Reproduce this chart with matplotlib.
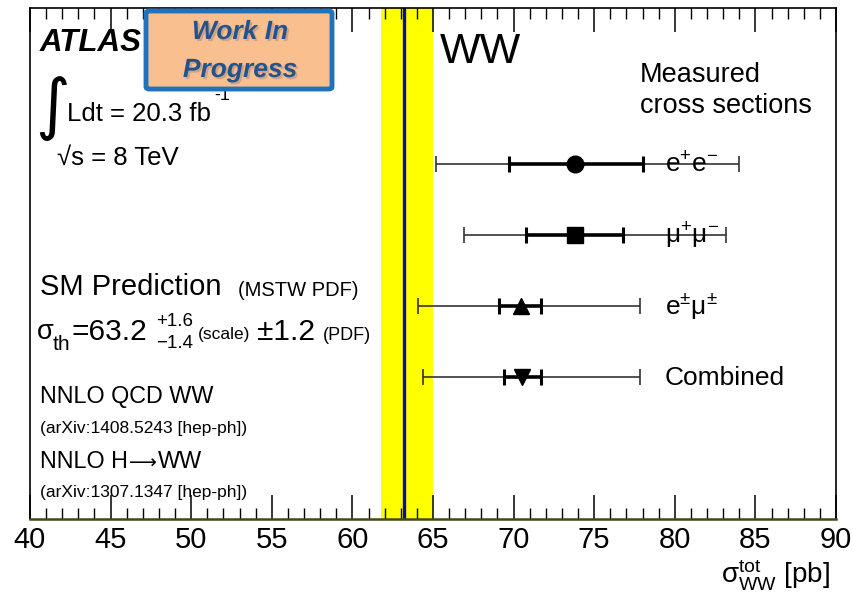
import matplotlib
matplotlib.use("Agg")
import matplotlib.pyplot as plt
from matplotlib.patches import FancyBboxPatch
from matplotlib.ticker import MultipleLocator
import matplotlib.patheffects as pe

plt.rcParams['font.family'] = ['Liberation Sans', 'DejaVu Sans']
plt.rcParams['mathtext.fontset'] = 'custom'
plt.rcParams['mathtext.rm'] = 'Liberation Sans'
plt.rcParams['mathtext.it'] = 'Liberation Sans:italic'
plt.rcParams['mathtext.bf'] = 'Liberation Sans:bold'

# ---- data ----
channels = ['e$^{+}$e$^{-}$', '\u03bc$^{+}$\u03bc$^{-}$', 'e$^{\\pm}$\u03bc$^{\\pm}$', 'Combined']
row_pos = [4, 3, 2, 1]
central = [73.8, 73.8, 70.45, 70.55]
stat_lo = [69.7, 70.8, 69.1, 69.4]
stat_hi = [78.0, 76.8, 71.7, 71.7]
tot_lo = [65.2, 66.9, 64.05, 64.4]
tot_hi = [84.0, 83.2, 77.85, 77.85]
markers = ['o', 's', '^', 'v']

sm_central = 63.2
sm_band_lo = 61.8
sm_band_hi = 65.0

xticks = [40, 45, 50, 55, 60, 65, 70, 75, 80, 85, 90]

W, H = 854, 593
fig = plt.figure(figsize=(W / 100, H / 100), dpi=100)
ax = fig.add_axes([30 / W, 1 - 519 / H, 806 / W, 511 / H])
ax.set_xlim(40, 90)
ax.set_ylim(-1.0, 6.2)

ax.axvspan(sm_band_lo, sm_band_hi, color='#ffff00', zorder=1, lw=0)
ax.axvline(sm_central, color='#0a0ab4', lw=2.4, zorder=2)

for i in range(len(channels)):
    y = row_pos[i]
    c = central[i]
    ax.errorbar([c], [y], xerr=[[c - tot_lo[i]], [tot_hi[i] - c]], fmt='none',
                ecolor='#333333', elinewidth=1.2, capsize=6, capthick=1.2, zorder=3)
    ax.errorbar([c], [y], xerr=[[c - stat_lo[i]], [stat_hi[i] - c]], fmt='none',
                ecolor='black', elinewidth=2.6, capsize=6, capthick=2.2, zorder=4)
    ax.plot([c], [y], marker=markers[i], color='black',
            markersize=12 if markers[i] != 's' else 11.5, linestyle='none', zorder=5)

label_y_px = [165, 236, 306, 378]
for i in range(len(channels)):
    fig.text(665 / W, 1 - label_y_px[i] / H, channels[i], fontsize=19, va='center', ha='left')

ax.set_xticks(xticks)
ax.set_xticklabels([str(v) for v in xticks])
ax.xaxis.set_minor_locator(MultipleLocator(1))
ax.tick_params(axis='x', which='major', direction='in', length=17, width=1.1,
               top=True, bottom=True, labelsize=21, pad=5)
ax.tick_params(axis='x', which='minor', direction='in', length=8, width=1.0,
               top=True, bottom=True)
ax.set_yticks([])
for s in ['left', 'right', 'top']:
    ax.spines[s].set_linewidth(1.2)
ax.spines['bottom'].set_color('#3f4a14')
ax.spines['bottom'].set_linewidth(1.8)


def fpos(x, y):
    return x / W, 1 - y / H


# x label
fig.text(*fpos(830, 575), r'$\mathrm{\sigma}^{\rm tot}_{\rm WW}$ [pb]', fontsize=20,
         ha='right', va='center')

# ATLAS
fig.text(*fpos(40, 43), 'ATLAS', fontsize=22.5, fontweight='bold', fontstyle='italic',
         ha='left', va='center')

# Work In Progress box
box = FancyBboxPatch(fpos(146, 89), 186 / W, 78 / H, boxstyle='round,pad=0,rounding_size=0.004',
                     transform=fig.transFigure, facecolor='#f9bf8f', edgecolor='#1f73be',
                     lw=3.5, zorder=10)
fig.patches.append(box)
for txt, yy in (('Work In', 32), ('Progress', 70)):
    t = fig.text(*fpos(240, yy), txt, fontsize=19, fontweight='bold', fontstyle='italic',
                 color='#24528f', ha='center', va='center', zorder=11)
    t.set_path_effects([pe.SimplePatchShadow(offset=(1.5, -1.5), shadow_rgbFace='#777777', alpha=0.35),
                        pe.Normal()])

# luminosity
fig.text(*fpos(35, 108), '\u222b', fontsize=48, family='DejaVu Sans', ha='left', va='center')
fig.text(*fpos(67, 114), 'Ldt = 20.3 fb', fontsize=18.5, ha='left', va='center')
fig.text(*fpos(214, 95), '-1', fontsize=13, ha='left', va='center')
fig.text(*fpos(57, 158), '\u221as = 8 TeV', fontsize=18.5, ha='left', va='center')

# WW
fig.text(*fpos(440, 52), 'WW', fontsize=31, ha='left', va='center')

# Measured cross sections
fig.text(*fpos(640, 75), 'Measured', fontsize=19.5, ha='left', va='center')
fig.text(*fpos(640, 106), 'cross sections', fontsize=19.5, ha='left', va='center')

# SM prediction
fig.text(*fpos(40, 287), 'SM Prediction', fontsize=21, ha='left', va='center')
fig.text(*fpos(238, 290), '(MSTW PDF)', fontsize=14.5, ha='left', va='center')
fig.text(*fpos(37, 332), '\u03c3', fontsize=19.5, ha='left', va='center')
fig.text(*fpos(53, 345), 'th', fontsize=15, ha='left', va='center')
fig.text(*fpos(72, 332), '=63.2', fontsize=21.5, ha='left', va='center')
fig.text(*fpos(156, 321), '+1.6', fontsize=13.5, ha='left', va='center')
fig.text(*fpos(156, 343), '\u22121.4', fontsize=13.5, ha='left', va='center')
fig.text(*fpos(198, 335), '(scale)', fontsize=12.5, ha='left', va='center')
fig.text(*fpos(257, 332), '\u00b11.2', fontsize=21.5, ha='left', va='center')
fig.text(*fpos(323, 335), '(PDF)', fontsize=13, ha='left', va='center')

fig.text(*fpos(40, 397), 'NNLO QCD WW', fontsize=16.8, ha='left', va='center')
fig.text(*fpos(40, 429), '(arXiv:1408.5243 [hep-ph])', fontsize=12.5, ha='left', va='center')

# NNLO H->WW composed from pieces so the arrow is long and thin
renderer = fig.canvas.get_renderer()
p1 = fig.text(*fpos(40, 462), 'NNLO H', fontsize=16.8, ha='left', va='center')
x_end = p1.get_window_extent(renderer).x1
arrow = fig.text((x_end + 1) / W, 1 - 463 / H, '\u27f6', fontsize=14, family='DejaVu Sans',
                 ha='left', va='center')
x_end2 = arrow.get_window_extent(renderer).x1
fig.text((x_end2 + 1) / W, 1 - 462 / H, 'WW', fontsize=16.8, ha='left', va='center')
fig.text(*fpos(40, 493), '(arXiv:1307.1347 [hep-ph])', fontsize=12.5, ha='left', va='center')

fig.savefig('out.png', dpi=100)
